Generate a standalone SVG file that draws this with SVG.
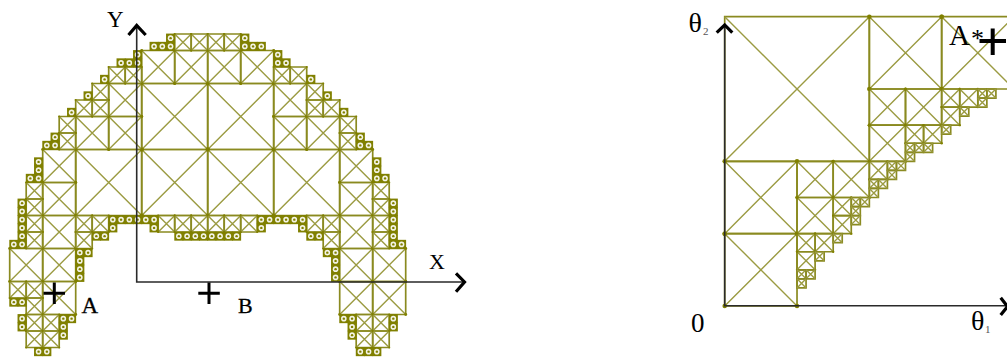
<svg xmlns="http://www.w3.org/2000/svg" width="1007" height="362" viewBox="0 0 1007 362">
<style>
.b{fill:none;stroke:#8a8a20;stroke-width:1.7;vector-effect:non-scaling-stroke}
.d{fill:none;stroke:#9b9b42;stroke-width:1.4;vector-effect:non-scaling-stroke}
.j{fill:#808000}
.a{fill:none;stroke:#2a2a2a;stroke-width:1.6}
.h{fill:none;stroke:#000;stroke-width:3.2}
.p{fill:none;stroke:#000;stroke-width:3}
text{font-family:"Liberation Serif","Times New Roman",serif;fill:#000}
.s{stroke:#000;stroke-width:.3}
.u{fill:#555}
</style>
<defs>
<g id="o1"><rect x="-.05" y="-.05" width="1.1" height="1.1" fill="#808000"/><circle cx=".5" cy=".5" r=".34" fill="#f4f4e6"/><circle cx=".5" cy=".5" r=".15" fill="#808000"/></g>
<g id="x1"><rect class="b" width="1" height="1"/><path class="d" d="M0 0L1 1M1 0L0 1"/></g>
<g id="x2"><rect class="b" width="2" height="2"/><path class="d" d="M0 0L2 2M2 0L0 2"/><g class="j"><circle r=".13"/><circle cx="2" r=".13"/><circle cy="2" r=".13"/><circle cx="2" cy="2" r=".13"/></g></g>
<g id="x4"><rect class="b" width="4" height="4"/><path class="d" d="M0 0L4 4M4 0L0 4"/><g class="j"><circle r=".18"/><circle cx="4" r=".18"/><circle cy="4" r=".18"/><circle cx="4" cy="4" r=".18"/></g></g>
<g id="x8"><rect class="b" width="8" height="8"/><path class="d" d="M0 0L8 8M8 0L0 8"/><g class="j"><circle r=".25"/><circle cx="8" r=".25"/><circle cy="8" r=".25"/><circle cx="8" cy="8" r=".25"/></g></g>
<g id="x16"><rect class="b" width="16" height="16"/><path class="d" d="M0 0L16 16M16 0L0 16"/></g>
</defs>
<g id="workspace" transform="translate(141.7 83.5) scale(8.25)">
<use href="#x8" x="0" y="0"/><use href="#x8" x="8" y="0"/><use href="#x8" x="0" y="8"/><use href="#x8" x="8" y="8"/><use href="#x8" x="-8" y="8"/><use href="#x8" x="16" y="8"/>
<use href="#x4" x="0" y="-4"/><use href="#x4" x="4" y="-4"/><use href="#x4" x="8" y="-4"/><use href="#x4" x="12" y="-4"/><use href="#x4" x="-4" y="0"/><use href="#x4" x="16" y="0"/><use href="#x4" x="-8" y="4"/><use href="#x4" x="-4" y="4"/><use href="#x4" x="16" y="4"/><use href="#x4" x="20" y="4"/><use href="#x4" x="-12" y="8"/><use href="#x4" x="24" y="8"/><use href="#x4" x="-12" y="12"/><use href="#x4" x="24" y="12"/><use href="#x4" x="-12" y="16"/><use href="#x4" x="24" y="16"/><use href="#x4" x="-16" y="20"/><use href="#x4" x="-12" y="20"/><use href="#x4" x="24" y="20"/><use href="#x4" x="28" y="20"/><use href="#x4" x="-12" y="24"/><use href="#x4" x="24" y="24"/><use href="#x4" x="28" y="24"/>
<use href="#x2" x="4" y="-6"/><use href="#x2" x="6" y="-6"/><use href="#x2" x="8" y="-6"/><use href="#x2" x="10" y="-6"/><use href="#x2" x="-4" y="-2"/><use href="#x2" x="-2" y="-2"/><use href="#x2" x="16" y="-2"/><use href="#x2" x="18" y="-2"/><use href="#x2" x="-6" y="0"/><use href="#x2" x="20" y="0"/><use href="#x2" x="-8" y="2"/><use href="#x2" x="-6" y="2"/><use href="#x2" x="20" y="2"/><use href="#x2" x="22" y="2"/><use href="#x2" x="-10" y="4"/><use href="#x2" x="-10" y="6"/><use href="#x2" x="24" y="4"/><use href="#x2" x="24" y="6"/><use href="#x2" x="-14" y="12"/><use href="#x2" x="-14" y="14"/><use href="#x2" x="-14" y="16"/><use href="#x2" x="-14" y="18"/><use href="#x2" x="28" y="12"/><use href="#x2" x="28" y="14"/><use href="#x2" x="28" y="16"/><use href="#x2" x="28" y="18"/><use href="#x2" x="-8" y="16"/><use href="#x2" x="-6" y="16"/><use href="#x2" x="-8" y="18"/><use href="#x2" x="20" y="16"/><use href="#x2" x="22" y="16"/><use href="#x2" x="22" y="18"/><use href="#x2" x="2" y="16"/><use href="#x2" x="4" y="16"/><use href="#x2" x="6" y="16"/><use href="#x2" x="8" y="16"/><use href="#x2" x="10" y="16"/><use href="#x2" x="12" y="16"/><use href="#x2" x="-16" y="24"/><use href="#x2" x="-14" y="24"/><use href="#x2" x="-14" y="26"/><use href="#x2" x="-14" y="28"/><use href="#x2" x="-12" y="28"/><use href="#x2" x="-14" y="30"/><use href="#x2" x="-12" y="30"/><use href="#x2" x="26" y="28"/><use href="#x2" x="28" y="28"/><use href="#x2" x="26" y="30"/><use href="#x2" x="28" y="30"/>
<use href="#o1" x="3" y="-6"/><use href="#o1" x="3" y="-5"/><use href="#o1" x="2" y="-5"/><use href="#o1" x="1" y="-5"/><use href="#o1" x="12" y="-6"/><use href="#o1" x="12" y="-5"/><use href="#o1" x="13" y="-5"/><use href="#o1" x="14" y="-5"/>
<use href="#o1" x="-1" y="-4"/><use href="#o1" x="-1" y="-3"/><use href="#o1" x="-2" y="-3"/><use href="#o1" x="-3" y="-3"/><use href="#o1" x="16" y="-4"/><use href="#o1" x="16" y="-3"/><use href="#o1" x="17" y="-3"/>
<use href="#o1" x="-5" y="-1"/><use href="#o1" x="20" y="-1"/><use href="#o1" x="-7" y="1"/><use href="#o1" x="22" y="1"/><use href="#o1" x="-9" y="3"/><use href="#o1" x="24" y="3"/>
<use href="#o1" x="-11" y="6"/><use href="#o1" x="-11" y="7"/><use href="#o1" x="-12" y="7"/><use href="#o1" x="26" y="6"/><use href="#o1" x="26" y="7"/><use href="#o1" x="27" y="7"/>
<use href="#o1" x="-13" y="9"/><use href="#o1" x="-13" y="10"/><use href="#o1" x="-13" y="11"/><use href="#o1" x="-14" y="11"/><use href="#o1" x="28" y="9"/><use href="#o1" x="28" y="10"/><use href="#o1" x="28" y="11"/><use href="#o1" x="29" y="11"/>
<use href="#o1" x="-15" y="14"/><use href="#o1" x="-15" y="15"/><use href="#o1" x="-15" y="16"/><use href="#o1" x="-15" y="17"/><use href="#o1" x="-15" y="18"/><use href="#o1" x="-15" y="19"/><use href="#o1" x="-16" y="19"/>
<use href="#o1" x="30" y="14"/><use href="#o1" x="30" y="15"/><use href="#o1" x="30" y="16"/><use href="#o1" x="30" y="17"/><use href="#o1" x="30" y="18"/><use href="#o1" x="30" y="19"/><use href="#o1" x="31" y="19"/>
<use href="#o1" x="-4" y="16"/><use href="#o1" x="-3" y="16"/><use href="#o1" x="-2" y="16"/><use href="#o1" x="-1" y="16"/><use href="#o1" x="0" y="16"/><use href="#o1" x="1" y="16"/><use href="#o1" x="14" y="16"/><use href="#o1" x="15" y="16"/><use href="#o1" x="16" y="16"/><use href="#o1" x="17" y="16"/><use href="#o1" x="18" y="16"/><use href="#o1" x="19" y="16"/>
<use href="#o1" x="-4" y="17"/><use href="#o1" x="1" y="17"/><use href="#o1" x="14" y="17"/><use href="#o1" x="19" y="17"/>
<use href="#o1" x="-6" y="18"/><use href="#o1" x="-5" y="18"/><use href="#o1" x="20" y="18"/><use href="#o1" x="21" y="18"/>
<use href="#o1" x="4" y="18"/><use href="#o1" x="5" y="18"/><use href="#o1" x="6" y="18"/><use href="#o1" x="7" y="18"/><use href="#o1" x="8" y="18"/><use href="#o1" x="9" y="18"/><use href="#o1" x="10" y="18"/><use href="#o1" x="11" y="18"/>
<use href="#o1" x="-8" y="20"/><use href="#o1" x="-7" y="20"/><use href="#o1" x="22" y="20"/><use href="#o1" x="23" y="20"/><use href="#o1" x="-8" y="21"/><use href="#o1" x="-8" y="22"/><use href="#o1" x="-8" y="23"/><use href="#o1" x="23" y="21"/><use href="#o1" x="23" y="22"/><use href="#o1" x="23" y="23"/>
<use href="#o1" x="-16" y="26"/><use href="#o1" x="-15" y="26"/><use href="#o1" x="-15" y="28"/><use href="#o1" x="-15" y="29"/><use href="#o1" x="-10" y="28"/><use href="#o1" x="-9" y="28"/><use href="#o1" x="-10" y="29"/><use href="#o1" x="-10" y="30"/><use href="#o1" x="-13" y="32"/><use href="#o1" x="-12" y="32"/>
<use href="#o1" x="24" y="28"/><use href="#o1" x="25" y="28"/><use href="#o1" x="25" y="29"/><use href="#o1" x="25" y="30"/><use href="#o1" x="30" y="28"/><use href="#o1" x="30" y="29"/><use href="#o1" x="26" y="32"/><use href="#o1" x="27" y="32"/><use href="#o1" x="28" y="32"/>
</g>
<g id="cspace" transform="translate(724.7 16.7) scale(9.04)">
<use href="#x16" x="0" y="0"/>
<use href="#x8" x="16" y="0"/><use href="#x8" x="24" y="0"/><use href="#x8" x="0" y="16"/><use href="#x8" x="0" y="24"/>
<use href="#x4" x="16" y="8"/><use href="#x4" x="20" y="8"/><use href="#x4" x="16" y="12"/><use href="#x4" x="8" y="16"/><use href="#x4" x="12" y="16"/><use href="#x4" x="8" y="20"/>
<use href="#x2" x="24" y="8"/><use href="#x2" x="26" y="8"/><use href="#x2" x="24" y="10"/><use href="#x2" x="20" y="12"/><use href="#x2" x="22" y="12"/><use href="#x2" x="16" y="16"/><use href="#x2" x="12" y="20"/><use href="#x2" x="12" y="22"/><use href="#x2" x="8" y="24"/><use href="#x2" x="10" y="24"/><use href="#x2" x="8" y="26"/>
<use href="#x1" x="28" y="8"/><use href="#x1" x="29" y="8"/><use href="#x1" x="28" y="9"/><use href="#x1" x="26" y="10"/><use href="#x1" x="24" y="12"/><use href="#x1" x="20" y="14"/><use href="#x1" x="21" y="14"/><use href="#x1" x="22" y="14"/><use href="#x1" x="20" y="15"/><use href="#x1" x="18" y="16"/><use href="#x1" x="19" y="16"/><use href="#x1" x="18" y="17"/><use href="#x1" x="16" y="18"/><use href="#x1" x="17" y="18"/><use href="#x1" x="16" y="19"/><use href="#x1" x="14" y="20"/><use href="#x1" x="15" y="20"/><use href="#x1" x="14" y="21"/><use href="#x1" x="14" y="22"/><use href="#x1" x="12" y="24"/><use href="#x1" x="10" y="26"/><use href="#x1" x="8" y="28"/><use href="#x1" x="9" y="28"/><use href="#x1" x="8" y="29"/>
</g>
<g id="axes">
<path class="a" d="M136.7 27V282H464"/>
<path class="h" d="M128.5 35L136.7 25.5L145.7 35M456 273.3L464.5 282L456 291.7"/>
<path class="a" d="M724.7 26V305.7H1006"/>
<path class="h" d="M716.7 32.7L724.7 25L732.3 32.7M1000.7 297.7L1007.5 306.5L1000.7 315"/>
</g>
<g id="marks">
<path class="p" d="M43.5 293.3H65M54.3 282.5V304M198.3 293.3H219.8M209 282.5V304"/>
<path class="p" style="stroke-width:4" d="M979.5 41H1006M992.7 28.5V55"/>
</g>
<g id="labels">
<text x="107" y="27.3" font-size="23">Y</text>
<text x="429" y="269" font-size="22">X</text>
<text x="81.5" y="312.5" font-size="23" class="s">A</text>
<text x="238" y="312.5" font-size="22" class="s">B</text>
<text x="688.5" y="32" font-size="28">θ</text>
<text x="703" y="35" font-size="11" class="u">2</text>
<text x="949" y="45" font-size="29">A</text>
<text x="971" y="47" font-size="26">*</text>
<text x="691" y="331.5" font-size="27">0</text>
<text x="971" y="330" font-size="28">θ</text>
<text x="985" y="333" font-size="11" class="u">1</text>
</g>
</svg>
